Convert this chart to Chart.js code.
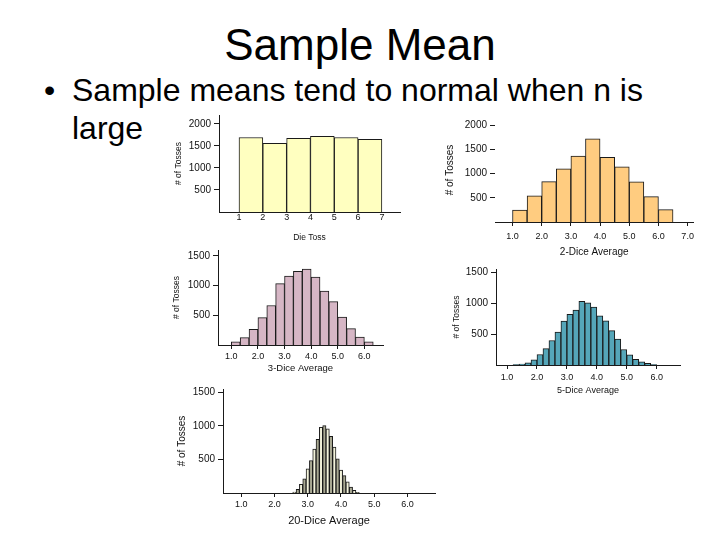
<!DOCTYPE html>
<html>
<head>
<meta charset="utf-8">
<script src="https://cdn.jsdelivr.net/npm/chart.js@4.4.1/dist/chart.umd.min.js"></script>
<style>
  html, body { margin: 0; padding: 0; background: #fff; }
  body { width: 720px; height: 540px; position: relative; overflow: hidden; font-family: 'Liberation Sans', Arial, sans-serif; color: #000; }
  .titulo { position: absolute; left: 0; top: 22.7px; width: 720px; text-align: center; font-size: 44px; line-height: 44px; }
  .vineta { position: absolute; left: 44px; top: 71px; font-size: 32px; line-height: 38px; }
  .texto { position: absolute; left: 72px; top: 71px; font-size: 32px; line-height: 38px; white-space: nowrap; }
  .caja { position: absolute; }
</style>
</head>
<body>
<div class="titulo">Sample Mean</div>
<div class="vineta">•</div>
<div class="texto">Sample means tend to normal when n is<br>large</div>

<div class="caja" style="left:174px; top:106px;"><canvas id="g1" width="230" height="137"></canvas></div>
<div class="caja" style="left:444px; top:109px;"><canvas id="g2" width="255" height="149"></canvas></div>
<div class="caja" style="left:172px; top:241px;"><canvas id="g3" width="215" height="133"></canvas></div>
<div class="caja" style="left:452px; top:260px;"><canvas id="g4" width="232" height="136"></canvas></div>
<div class="caja" style="left:176px; top:380px;"><canvas id="g5" width="263" height="148"></canvas></div>

<script>
// --- datos ---
// 1 dado
const dadoInicio = [1, 2, 3, 4, 5, 6];
const dadoCuentas = [1690, 1555, 1670, 1715, 1690, 1650];
const dadoTicksX = [1, 2, 3, 4, 5, 6, 7];

// media de 2 dados (barras de 0.5)
const dos_Inicio = [1.0, 1.5, 2.0, 2.5, 3.0, 3.5, 4.0, 4.5, 5.0, 5.5, 6.0];
const dos_Cuentas = [245, 540, 835, 1100, 1365, 1720, 1335, 1140, 830, 525, 255];

// media de 3 dados (barras de 1/3)
const tres_Inicio = [1, 4/3, 5/3, 2, 7/3, 8/3, 3, 10/3, 11/3, 4, 13/3, 14/3, 5, 16/3, 17/3, 6];
const tres_Cuentas = [55, 125, 265, 460, 665, 1035, 1160, 1240, 1280, 1145, 910, 730, 470, 275, 135, 55];

// media de 5 dados (barras de 0.2)
const cinco_Inicio = [1.2, 1.4, 1.6, 1.8, 2.0, 2.2, 2.4, 2.6, 2.8, 3.0, 3.2, 3.4, 3.6, 3.8, 4.0, 4.2, 4.4, 4.6, 4.8, 5.0, 5.2, 5.4, 5.6, 5.8];
const cinco_Cuentas = [5, 15, 35, 85, 170, 265, 395, 530, 710, 820, 885, 1030, 1005, 935, 795, 715, 555, 420, 250, 165, 90, 50, 25, 8];

// media de 20 dados (barras de 0.1, centros)
const veinte_Centros = [2.6, 2.7, 2.8, 2.9, 3.0, 3.1, 3.2, 3.3, 3.4, 3.5, 3.6, 3.7, 3.8, 3.9, 4.0, 4.1, 4.2, 4.3, 4.4, 4.5];
const veinte_Cuentas = [15, 55, 130, 210, 360, 485, 655, 800, 980, 1005, 955, 845, 685, 510, 340, 260, 165, 90, 40, 10];

const mediaTicksX = [1, 2, 3, 4, 5, 6, 7];
const ticksY2000 = [500, 1000, 1500, 2000];
const ticksY1500 = [500, 1000, 1500];

const FUENTE = "'Liberation Sans', Arial, sans-serif";
const TINTA = '#1a1a1a';

function histograma(id, cfg) {
  const datos = cfg.centros.map((c, i) => ({ x: c, y: cfg.cuentas[i] }));
  const ctx = document.getElementById(id).getContext('2d');
  return new Chart(ctx, {
    type: 'bar',
    data: {
      datasets: [{
        data: datos,
        backgroundColor: cfg.relleno,
        borderColor: TINTA,
        borderWidth: 1,
        borderSkipped: 'bottom',
        barPercentage: 1,
        categoryPercentage: 1
      }]
    },
    options: {
      responsive: false,
      animation: false,
      events: [],
      layout: { padding: { top: 8, right: 4, left: 0, bottom: 0 } },
      plugins: { legend: { display: false }, tooltip: { enabled: false } },
      scales: {
        x: {
          type: 'linear',
          offset: false,
          min: cfg.xMin, max: cfg.xMax,
          afterBuildTicks: s => { s.ticks = cfg.ticksX.map(v => ({ value: v })); },
          afterFit: s => { s.height = cfg.altoX; },
          border: { display: true, color: TINTA, width: 1 },
          grid: { display: true, offset: false, drawOnChartArea: false, drawTicks: cfg.marcaX > 0, tickLength: cfg.marcaX, color: TINTA },
          ticks: {
            autoSkip: false, maxRotation: 0, padding: cfg.sepX, color: '#111',
            font: { family: FUENTE, size: 9 },
            callback: v => cfg.enteros ? String(v) : v.toFixed(1)
          },
          title: { display: true, text: cfg.tituloX, color: '#111', padding: 0, font: { family: FUENTE, size: cfg.tamTituloX } }
        },
        y: {
          min: 0, max: cfg.yMax,
          afterBuildTicks: s => { s.ticks = cfg.ticksY.map(v => ({ value: v })); },
          afterFit: s => { s.width = cfg.anchoY; },
          border: { display: cfg.ejeY, color: TINTA, width: 1 },
          grid: { display: true, drawOnChartArea: false, drawTicks: true, tickLength: 5, color: TINTA },
          ticks: { padding: 3, color: '#111', font: { family: FUENTE, size: 10 }, callback: v => String(v) },
          title: { display: true, text: '# of Tosses', color: '#111', padding: 0, font: { family: FUENTE, size: cfg.tamTituloY } }
        }
      }
    }
  });
}

histograma('g1', {
  centros: dadoInicio.map(v => v + 0.5), cuentas: dadoCuentas, relleno: '#FFFFC0',
  xMin: 0.16, xMax: 7.76, yMax: 2200, ticksX: dadoTicksX, ticksY: ticksY2000, enteros: true,
  altoX: 31, anchoY: 45, marcaX: 0, sepX: 0, ejeY: true,
  tituloX: 'Die Toss', tamTituloX: 8.5, tamTituloY: 8.5
});

histograma('g2', {
  centros: dos_Inicio.map(v => v + 0.25), cuentas: dos_Cuentas, relleno: '#FFCC80',
  xMin: 0.4, xMax: 7.2, yMax: 2150, ticksX: mediaTicksX, ticksY: ticksY2000, enteros: false,
  altoX: 36, anchoY: 51, marcaX: 4, sepX: 5, ejeY: false,
  tituloX: '2-Dice Average', tamTituloX: 10, tamTituloY: 10
});

histograma('g3', {
  centros: tres_Inicio.map(v => v + 1 / 6), cuentas: tres_Cuentas, relleno: '#D6B6C5',
  xMin: 0.5, xMax: 6.7, yMax: 1600, ticksX: mediaTicksX.slice(0, 6), ticksY: ticksY1500, enteros: false,
  altoX: 29, anchoY: 46, marcaX: 4, sepX: 2, ejeY: true,
  tituloX: '3-Dice Average', tamTituloX: 9.5, tamTituloY: 8.5
});

histograma('g4', {
  centros: cinco_Inicio.map(v => v + 0.1), cuentas: cinco_Cuentas, relleno: '#55A6B9',
  xMin: 0.63, xMax: 6.78, yMax: 1550, ticksX: mediaTicksX.slice(0, 6), ticksY: ticksY1500, enteros: false,
  altoX: 31, anchoY: 44, marcaX: 4, sepX: 3, ejeY: true,
  tituloX: '5-Dice Average', tamTituloX: 9, tamTituloY: 8.5
});

histograma('g5', {
  centros: veinte_Centros, cuentas: veinte_Cuentas,
  relleno: veinte_Centros.map((c, i) => i % 2 === 0 ? '#F2F2DA' : '#A9A993'),
  xMin: 0.45, xMax: 6.83, yMax: 1550, ticksX: mediaTicksX.slice(0, 6), ticksY: ticksY1500, enteros: false,
  altoX: 35, anchoY: 47, marcaX: 4, sepX: 2, ejeY: true,
  tituloX: '20-Dice Average', tamTituloX: 11, tamTituloY: 10
});
</script>
</body>
</html>
